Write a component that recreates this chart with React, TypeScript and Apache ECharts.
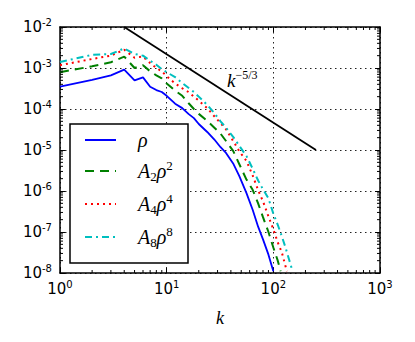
import React, { useEffect, useRef } from 'react';
import * as echarts from 'echarts';

// ---- data ----
const kRho = [1, 2, 3, 4, 5, 6, 7, 8, 9, 10, 12, 14, 16, 18, 20, 24, 28, 32, 36, 42, 48, 56, 64, 72, 80, 90, 100];
const rho = [3.5e-4, 5.1e-4, 6.6e-4, 9.1e-4, 5.0e-4, 5.9e-4, 3.5e-4, 2.9e-4, 2.6e-4, 2.1e-4,
  1.35e-4, 1.05e-4, 7.6e-5, 6.0e-5, 4.3e-5, 2.75e-5, 1.8e-5, 1.17e-5, 8.5e-6, 4.7e-6, 2.3e-6,
  8.9e-7, 3.5e-7, 1.35e-7, 6.6e-8, 2.8e-8, 1.1e-8];

const kA2 = [1, 2, 3, 4, 5, 6, 7, 8, 9, 10, 12, 14, 16, 18, 20, 24, 28, 32, 36, 42, 48, 56, 64, 72, 80, 90, 100, 110, 117];
const a2rho2 = [7.9e-4, 1.1e-3, 1.38e-3, 1.9e-3, 1.0e-3, 1.17e-3, 8.3e-4, 6.6e-4, 5.6e-4, 4.2e-4,
  2.8e-4, 2.1e-4, 1.4e-4, 1.0e-4, 7.6e-5, 5.1e-5, 3.5e-5, 2.5e-5, 1.66e-5, 9.5e-6, 4.5e-6,
  1.9e-6, 1.07e-6, 5.0e-7, 2.3e-7, 1.0e-7, 4.2e-8, 2.0e-8, 1.1e-8];

const kA4 = [1, 2, 3, 4, 5, 6, 7, 8, 9, 10, 12, 14, 16, 18, 20, 24, 28, 32, 36, 42, 48, 56, 64, 72, 80, 90, 100, 110, 120, 134];
const a4rho4 = [1.17e-3, 1.66e-3, 2.0e-3, 2.8e-3, 1.78e-3, 1.9e-3, 1.32e-3, 1.0e-3, 8.3e-4, 6.3e-4,
  4.2e-4, 3.2e-4, 2.6e-4, 2.0e-4, 1.6e-4, 1.05e-4, 6.6e-5, 4.5e-5, 3.2e-5, 1.66e-5, 9.3e-6,
  5.4e-6, 2.4e-6, 1.05e-6, 5.6e-7, 2.4e-7, 1.17e-7, 5.6e-8, 3.2e-8, 1.1e-8];

const kA8 = [1, 2, 3, 4, 5, 6, 7, 8, 9, 10, 12, 14, 16, 18, 20, 24, 28, 32, 36, 42, 48, 56, 64, 72, 80, 90, 100, 110, 120, 130, 140, 150];
const a8rho8 = [1.4e-3, 2.1e-3, 2.2e-3, 3.0e-3, 2.2e-3, 2.0e-3, 1.5e-3, 1.2e-3, 9.3e-4, 7.9e-4,
  6.0e-4, 4.3e-4, 3.3e-4, 2.6e-4, 2.0e-4, 1.26e-4, 7.9e-5, 5.0e-5, 3.5e-5, 2.1e-5, 1.26e-5,
  7.1e-6, 3.5e-6, 1.8e-6, 1.1e-6, 6.6e-7, 2.8e-7, 1.5e-7, 7.9e-8, 4.2e-8, 2.2e-8, 1.2e-8];

const kRef = [4, 251];
const refVals = [1e-2, 1e-5];

const X_MIN = 1;
const X_MAX = 1000;
const Y_MIN = 1e-8;
const Y_MAX = 1e-2;

// minor tick positions (2..9 × each decade)
const xMinor: number[] = [];
for (let d = 0; d < 3; d++) for (let m = 2; m <= 9; m++) xMinor.push(m * Math.pow(10, d));
const yMinor: number[] = [];
for (let d = -8; d < -2; d++) for (let m = 2; m <= 9; m++) yMinor.push(m * Math.pow(10, d));

const SERIF = 'Liberation Serif';
const SANS = 'DejaVu Sans';

const legendText: Record<string, string> = {
  'ρ': '{pad|}{m|ρ}',
  'A2ρ2': '{pad|}{m|A}{sub|2}{m|ρ}{sup|2}',
  'A4ρ4': '{pad|}{m|A}{sub|4}{m|ρ}{sup|4}',
  'A8ρ8': '{pad|}{m|A}{sub|8}{m|ρ}{sup|8}',
};

const pow10Label = (v: number) => `10{sup|${Math.round(Math.log10(v))}}`;

export default function App() {
  const ref = useRef<HTMLDivElement>(null);
  useEffect(() => {
    document.body.style.margin = '0';
    const chart = echarts.init(ref.current!, null, { renderer: 'svg' });

    const axisTick = { show: true, inside: true, length: 5, lineStyle: { color: '#000', width: 1 } };
    const axisLine = { show: true, lineStyle: { color: '#000', width: 1.5 } };
    const gridLine = { show: true, lineStyle: { color: '#222', width: 1, type: [1.5, 3.5] } };
    const labelRich = { sup: { fontFamily: SANS, fontSize: 10, lineHeight: 10, verticalAlign: 'top', color: '#000' } };

    const lineSeries = (name: string, ks: number[], vs: number[], color: string, type: any, width: number) => ({
      name,
      type: 'line',
      data: ks.map((k, i) => [k, vs[i]]),
      symbol: 'none',
      showSymbol: false,
      lineStyle: { color, width, type },
      itemStyle: { color },
      z: 2,
    });

    const option: any = {
      animation: false,
      grid: { left: 60, right: 35, top: 27, bottom: 69, containLabel: false },
      xAxis: [
        {
          type: 'log', logBase: 10, min: X_MIN, max: X_MAX, interval: 1,
          axisLine, axisTick,
          splitLine: gridLine,
          axisLabel: {
            formatter: pow10Label, fontFamily: SANS, fontSize: 15, lineHeight: 20, color: '#000', margin: 6,
            rich: labelRich,
          },
          name: 'k', nameLocation: 'middle', nameGap: 36,
          nameTextStyle: { fontFamily: SERIF, fontStyle: 'italic', fontSize: 18, color: '#000' },
        },
        {
          type: 'log', logBase: 10, min: X_MIN, max: X_MAX, interval: 1, position: 'top',
          axisLine, axisTick, splitLine: { show: false }, axisLabel: { show: false },
        },
      ],
      yAxis: [
        {
          type: 'log', logBase: 10, min: Y_MIN, max: Y_MAX, interval: 1,
          axisLine, axisTick,
          splitLine: gridLine,
          axisLabel: {
            formatter: pow10Label, fontFamily: SANS, fontSize: 15, lineHeight: 20, color: '#000', margin: 8,
            rich: labelRich,
          },
        },
        {
          type: 'log', logBase: 10, min: Y_MIN, max: Y_MAX, interval: 1, position: 'right',
          axisLine, axisTick, splitLine: { show: false }, axisLabel: { show: false },
        },
      ],
      legend: {
        data: ['ρ', 'A2ρ2', 'A4ρ4', 'A8ρ8'],
        orient: 'vertical',
        left: 84,
        top: 130,
        padding: 0,
        itemWidth: 31,
        itemHeight: 24,
        itemGap: 9,
        selectedMode: false,
        itemStyle: { opacity: 0, borderWidth: 0 },
        formatter: (n: string) => legendText[n] || n,
        textStyle: {
          color: '#000',
          rich: {
            pad: { width: 17 },
            m: { fontFamily: SERIF, fontStyle: 'italic', fontSize: 20, lineHeight: 24, color: '#000' },
            sub: { fontFamily: SERIF, fontSize: 13, lineHeight: 12, verticalAlign: 'bottom', color: '#000' },
            sup: { fontFamily: SERIF, fontSize: 13, lineHeight: 12, verticalAlign: 'top', color: '#000' },
          },
        },
        z: 6,
      },
      graphic: [
        {
          type: 'rect', z: 5,
          shape: { x: 70, y: 124, width: 118, height: 139 },
          style: { fill: '#fff', stroke: '#000', lineWidth: 1.5 },
        },
        {
          type: 'text', z: 5,
          style: {
            x: 227, y: 69,
            text: '{k|k}{s|−5/3}',
            rich: {
              k: { fontFamily: SERIF, fontStyle: 'italic', fontSize: 19, lineHeight: 22, fill: '#000' },
              s: { fontFamily: SERIF, fontSize: 12, lineHeight: 12, verticalAlign: 'top', fill: '#000' },
            },
          },
        },
      ],
      series: [
        lineSeries('ρ', kRho, rho, '#0000ff', 'solid', 1.8),
        lineSeries('A2ρ2', kA2, a2rho2, '#008000', [9, 6], 2),
        lineSeries('A4ρ4', kA4, a4rho4, '#ff0000', [2, 4], 2),
        lineSeries('A8ρ8', kA8, a8rho8, '#00bfbf', [7, 4, 2, 4], 2),
        {
          name: 'ref', type: 'line', symbol: 'none',
          data: kRef.map((k, i) => [k, refVals[i]]),
          lineStyle: { color: '#000', width: 1.8 }, z: 2,
        },
        {
          name: 'xminor', type: 'custom', silent: true, z: 3,
          data: xMinor.map((k) => [k, Y_MIN]),
          renderItem: (_p: any, api: any) => {
            const k = api.value(0);
            const b = api.coord([k, Y_MIN]);
            const t = api.coord([k, Y_MAX]);
            const st = { stroke: '#000', lineWidth: 1 };
            return {
              type: 'group',
              children: [
                { type: 'line', shape: { x1: b[0], y1: b[1], x2: b[0], y2: b[1] - 3 }, style: st },
                { type: 'line', shape: { x1: t[0], y1: t[1], x2: t[0], y2: t[1] + 3 }, style: st },
              ],
            };
          },
        },
        {
          name: 'yminor', type: 'custom', silent: true, z: 3,
          data: yMinor.map((v) => [X_MIN, v]),
          renderItem: (_p: any, api: any) => {
            const v = api.value(1);
            const l = api.coord([X_MIN, v]);
            const r = api.coord([X_MAX, v]);
            const st = { stroke: '#000', lineWidth: 1 };
            return {
              type: 'group',
              children: [
                { type: 'line', shape: { x1: l[0], y1: l[1], x2: l[0] + 3, y2: l[1] }, style: st },
                { type: 'line', shape: { x1: r[0], y1: r[1], x2: r[0] - 3, y2: r[1] }, style: st },
              ],
            };
          },
        },
      ],
    };

    chart.setOption(option);
    return () => chart.dispose();
  }, []);
  return <div ref={ref} style={{ width: 415, height: 342 }} />;
}
